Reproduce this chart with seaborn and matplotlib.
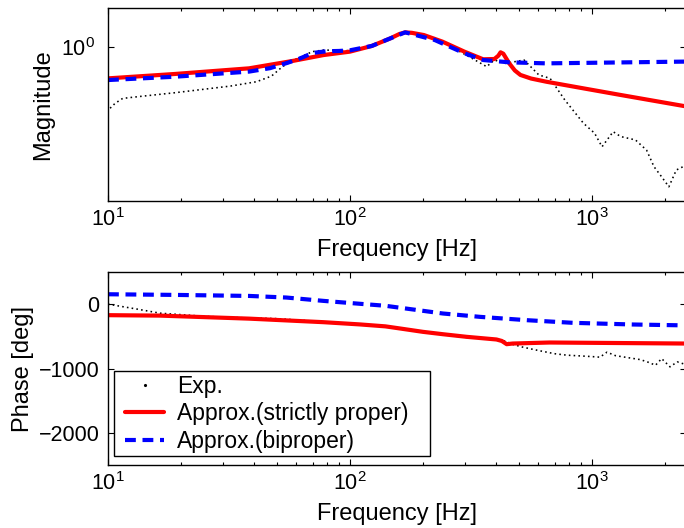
import numpy as np
import pandas as pd
import matplotlib
matplotlib.use('Agg')
import matplotlib.pyplot as plt
import seaborn as sns
from matplotlib.ticker import FixedLocator, NullLocator, LogLocator, NullFormatter
from matplotlib.lines import Line2D
from matplotlib.legend_handler import HandlerLine2D

# ---------------- data ----------------
# Magnitude: experiment
exp_mag_f = [10.2, 10.7, 11.5, 13.3, 18.9, 32.1, 41.1, 47.4, 52.6, 58.6, 69.9, 77.7,
             100, 123, 169, 224, 249, 277, 319, 367, 395, 439, 524, 603, 671, 772,
             922, 1025, 1100, 1223, 1313, 1512, 1681, 1804, 1936, 2078, 2230, 2377]
exp_mag = [0.625, 0.649, 0.674, 0.683, 0.704, 0.741, 0.766, 0.800, 0.860, 0.905, 0.965, 0.977,
           0.972, 1.003, 1.119, 1.069, 1.029, 0.977, 0.917, 0.860, 0.905, 0.882, 0.905, 0.807,
           0.786, 0.666, 0.557, 0.516, 0.465, 0.522, 0.503, 0.490, 0.453, 0.399, 0.370, 0.342,
           0.389, 0.399]

# Magnitude: strictly proper approximation
sp_mag_f = [10, 18.9, 38.3, 58.6, 77.7, 100, 123, 147, 160, 169, 180, 202, 241, 297, 355,
            395, 410, 419, 430, 455, 480, 506, 560, 648, 922, 1313, 2443]
sp_mag = [0.786, 0.813, 0.849, 0.900, 0.940, 0.965, 1.008, 1.069, 1.105, 1.119, 1.115, 1.096,
          1.042, 0.965, 0.910, 0.912, 0.935, 0.960, 0.950, 0.882, 0.835, 0.807, 0.785, 0.766,
          0.728, 0.692, 0.634]

# Magnitude: biproper approximation
bp_mag_f = [10, 18.9, 38.3, 46.7, 55, 62, 70, 80, 90, 100, 123, 147, 169, 224, 297, 355,
            455, 648, 2443]
bp_mag = [0.776, 0.796, 0.828, 0.850, 0.885, 0.915, 0.955, 0.968, 0.970, 0.975, 1.008, 1.069,
          1.119, 1.055, 0.953, 0.905, 0.889, 0.882, 0.894]

# Phase: experiment
exp_ph_f = [10, 13.2, 16.4, 25.2, 38, 50, 90, 130, 170, 230, 300, 380, 430, 470, 519, 600,
            700, 788, 900, 1000, 1079, 1153, 1250, 1400, 1585, 1700, 1830, 1940, 2100, 2250, 2400]
exp_ph = [0, -77, -140, -190, -215, -225, -290, -340, -395, -465, -515, -545, -565, -625, -669,
          -720, -770, -793, -805, -815, -824, -746, -800, -830, -862, -900, -949, -846, -974,
          -897, -930]

# Phase: strictly proper approximation
sp_ph_f = [10, 16.4, 38.3, 77.7, 110, 140, 161, 200, 242, 304, 403, 424, 444, 470, 667, 2443]
sp_ph = [-171, -178, -225, -280, -315, -345, -378, -430, -467, -508, -549, -572, -622, -612,
         -596, -612]

# Phase: biproper approximation
bp_ph_f = [10, 18.9, 38.3, 54.6, 77.7, 110.6, 140, 172, 242, 344, 538, 834, 1476, 2443]
bp_ph = [154, 144, 128, 103, 51, 5, -25, -70, -145, -197, -249, -290, -316, -330]

labels = ['Exp.', 'Approx.(strictly proper)', 'Approx.(biproper)']
x_ticks = [10, 100, 1000]
mag_ticks = [1]
ph_ticks = [-2000, -1000, 0]

# ---------------- style ----------------
sns.set_style('ticks')
plt.rcParams['font.family'] = ['Liberation Sans', 'DejaVu Sans']
plt.rcParams['mathtext.fontset'] = 'custom'
plt.rcParams['mathtext.rm'] = 'Liberation Sans'
plt.rcParams['mathtext.it'] = 'Liberation Sans:italic'
plt.rcParams['mathtext.bf'] = 'Liberation Sans:bold'
plt.rcParams['text.color'] = 'black'
plt.rcParams['axes.labelcolor'] = 'black'

FS_TICK = 15.5
FS_LABEL = 17
FS_LEG = 16.5
W, H = 684, 528
fig = plt.figure(figsize=(W / 100, H / 100), dpi=100)


def axes_px(left, top, right, bottom):
    return fig.add_axes([left / W, 1 - bottom / H, (right - left) / W, (bottom - top) / H])


ax1 = axes_px(108, 8, 686, 201)
ax2 = axes_px(108, 272, 686, 465)

RED = '#ff0000'
BLUE = '#0000ff'
exp_style = dict(color='black', linewidth=1.15, linestyle=(0, (1, 2)))
sp_style = dict(color=RED, linewidth=3.0, linestyle='-')
bp_style = dict(color=BLUE, linewidth=3.0, linestyle=(0, (2.6, 1.6)))

sns.lineplot(x=exp_mag_f, y=exp_mag, ax=ax1, sort=False, estimator=None, **exp_style)
sns.lineplot(x=sp_mag_f, y=sp_mag, ax=ax1, sort=False, estimator=None, **sp_style)
sns.lineplot(x=bp_mag_f, y=bp_mag, ax=ax1, sort=False, estimator=None, **bp_style)

sns.lineplot(x=exp_ph_f, y=exp_ph, ax=ax2, sort=False, estimator=None, **exp_style)
sns.lineplot(x=sp_ph_f, y=sp_ph, ax=ax2, sort=False, estimator=None, **sp_style)
sns.lineplot(x=bp_ph_f, y=bp_ph, ax=ax2, sort=False, estimator=None, **bp_style)

xmax = 10 ** (1 + (686 - 108) / 242)
for ax in (ax1, ax2):
    ax.set_xscale('log')
    ax.set_xlim(10, xmax)
    ax.xaxis.set_major_locator(FixedLocator(x_ticks))
    ax.xaxis.set_minor_locator(LogLocator(base=10, subs=np.arange(2, 10)))
    ax.xaxis.set_minor_formatter(NullFormatter())
    ax.tick_params(which='both', direction='in', top=True, right=True,
                   labelsize=FS_TICK, colors='black', width=0.8)
    ax.tick_params(which='major', length=4)
    ax.tick_params(which='minor', length=2.2)
    ax.tick_params(axis='x', pad=5)
    for s in ax.spines.values():
        s.set_color('black')
        s.set_linewidth(1.0)
    ax.set_xlabel('Frequency [Hz]', fontsize=FS_LABEL)
    ax.xaxis.set_label_coords(0.5, -0.195)

ax1.set_yscale('log')
ax1.set_ylim(10 ** (-(201 - 47) / 300), 10 ** ((47 - 8) / 300))
ax1.yaxis.set_major_locator(FixedLocator(mag_ticks))
ax1.yaxis.set_minor_locator(NullLocator())
ax1.tick_params(axis='y', pad=9)
ax1.set_ylabel('Magnitude', fontsize=FS_LABEL)
ax1.yaxis.set_label_coords(-0.094, 0.5)

ax2.set_ylim(-2500, 500)
ax2.yaxis.set_major_locator(FixedLocator(ph_ticks))
ax2.yaxis.set_minor_locator(NullLocator())
ax2.tick_params(axis='y', pad=6)
ax2.set_ylabel('Phase [deg]', fontsize=FS_LABEL)
ax2.yaxis.set_label_coords(-0.128, 0.5)

handles = [
    Line2D([], [], color='black', marker='.', markersize=2.5, linestyle='none'),
    Line2D([], [], **sp_style),
    Line2D([], [], **bp_style),
]
leg = ax2.legend(handles, labels, loc='lower left',
                 bbox_to_anchor=(0.0104, 0.045, (430 - 114) / 578, 0.0), mode='expand',
                 borderaxespad=0, fontsize=FS_LEG, frameon=True, fancybox=False,
                 framealpha=1, edgecolor='black', handlelength=2.05, handletextpad=0.55,
                 labelspacing=0.2, borderpad=0.15,
                 handler_map={Line2D: HandlerLine2D(xpad=0.35)})
leg.get_frame().set_linewidth(1.0)

fig.savefig('out.png', dpi=100)
